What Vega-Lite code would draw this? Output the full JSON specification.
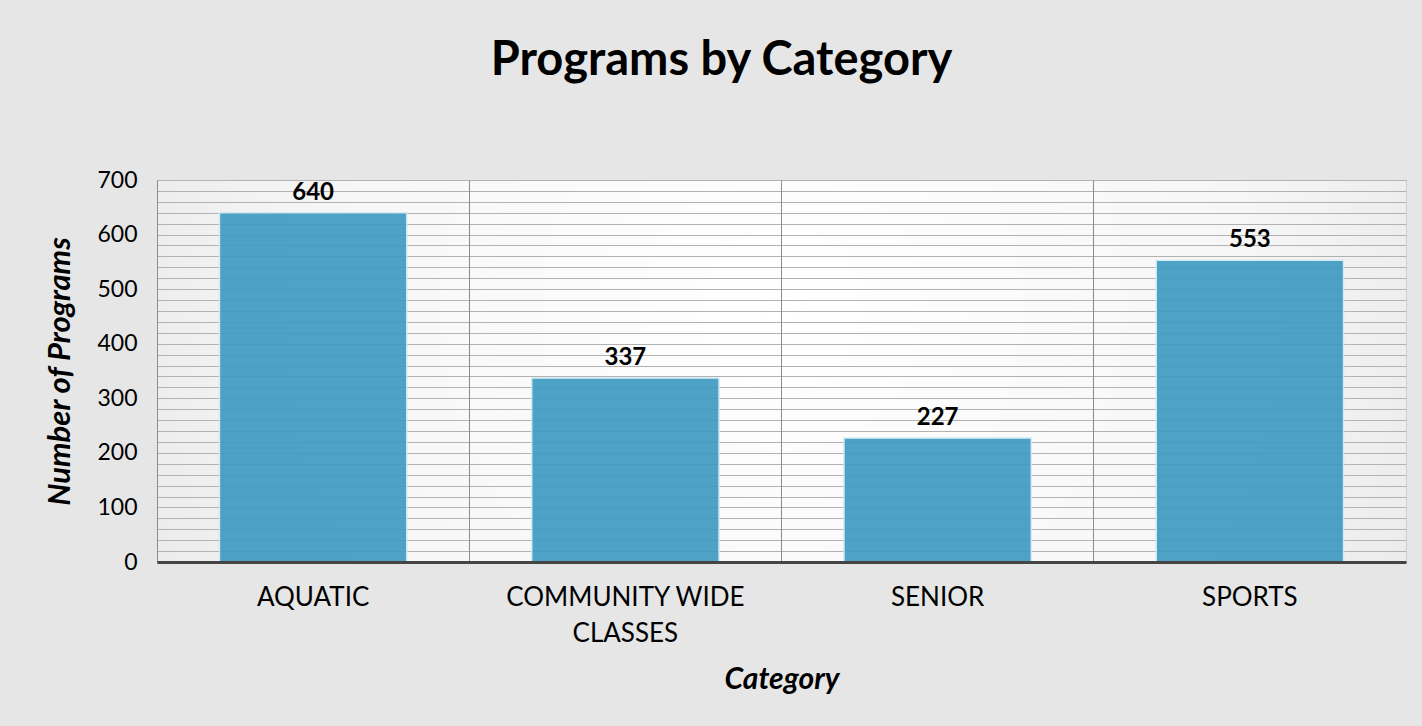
{
  "$schema": "https://vega.github.io/schema/vega-lite/v6.json",
  "autosize": "none",
  "width": 1249,
  "height": 382,
  "padding": {"left": 157, "top": 180, "right": 16, "bottom": 164},
  "background": "#e6e6e6",
  "title": {
    "text": "Programs by Category",
    "font": "Lato",
    "fontSize": 47,
    "fontWeight": "bold",
    "color": "#000000",
    "anchor": "middle",
    "dx": -60,
    "offset": 84
  },
  "data": {
    "values": [
      {"category": "AQUATIC", "programs": 640},
      {"category": "COMMUNITY WIDE CLASSES", "programs": 337},
      {"category": "SENIOR", "programs": 227},
      {"category": "SPORTS", "programs": 553}
    ]
  },
  "encoding": {
    "x": {
      "field": "category",
      "type": "nominal",
      "sort": null,
      "scale": {"paddingInner": 0.4, "paddingOuter": 0.2},
      "axis": {
        "title": "Category",
        "titleFont": "Lato",
        "titleFontSize": 30,
        "titleFontWeight": "bold",
        "titleFontStyle": "italic",
        "titleColor": "#000000",
        "titlePadding": 18,
        "labelFont": "Lato",
        "labelFontSize": 26,
        "labelColor": "#000000",
        "labelAngle": 0,
        "labelPadding": 22,
        "labelLimit": 0,
        "labelLineHeight": 36,
        "labelExpr": "datum.value == 'COMMUNITY WIDE CLASSES' ? ['COMMUNITY WIDE', 'CLASSES'] : datum.value",
        "ticks": false,
        "tickSize": 0,
        "bandPosition": -0.33333,
        "grid": true,
        "gridColor": "#8c8c8c",
        "gridWidth": 1,
        "domainColor": "#454545",
        "domainWidth": 3,
        "zindex": 1
      }
    },
    "y": {
      "field": "programs",
      "type": "quantitative",
      "scale": {"domain": [0, 700], "nice": false},
      "axis": {
        "title": "Number of Programs",
        "titleFont": "Lato",
        "titleFontSize": 31,
        "titleFontWeight": "bold",
        "titleFontStyle": "italic",
        "titleColor": "#000000",
        "titlePadding": 20,
        "labelFont": "Lato",
        "labelFontSize": 23,
        "labelColor": "#000000",
        "labelPadding": 20,
        "values": [0, 20, 40, 60, 80, 100, 120, 140, 160, 180, 200, 220, 240, 260, 280, 300, 320, 340, 360, 380, 400, 420, 440, 460, 480, 500, 520, 540, 560, 580, 600, 620, 640, 660, 680, 700],
        "labelExpr": "datum.value % 100 == 0 ? datum.label : ''",
        "ticks": false,
        "tickSize": 0,
        "grid": true,
        "gridColor": "#b2b2b2",
        "gridWidth": 1,
        "domainColor": "#9a9a9a",
        "domainWidth": 1
      }
    }
  },
  "layer": [
    {
      "mark": {
        "type": "bar",
        "color": "#3f9bc1",
        "opacity": 0.92,
        "stroke": "#d2eaf4",
        "strokeWidth": 1.5
      }
    },
    {
      "mark": {
        "type": "text",
        "font": "Lato",
        "fontSize": 24,
        "fontWeight": "bold",
        "color": "#000000",
        "baseline": "middle",
        "dy": -20
      },
      "encoding": {"text": {"field": "programs", "type": "quantitative"}}
    }
  ],
  "config": {
    "view": {
      "fill": {
        "gradient": "radial",
        "x1": 0.5, "y1": 0.45, "x2": 0.5, "y2": 0.45,
        "r1": 0, "r2": 0.75,
        "stops": [
          {"offset": 0, "color": "#ffffff"},
          {"offset": 0.5, "color": "#f6f6f6"},
          {"offset": 1, "color": "#dedede"}
        ]
      },
      "stroke": "#cfcfcf",
      "strokeWidth": 1
    }
  }
}
